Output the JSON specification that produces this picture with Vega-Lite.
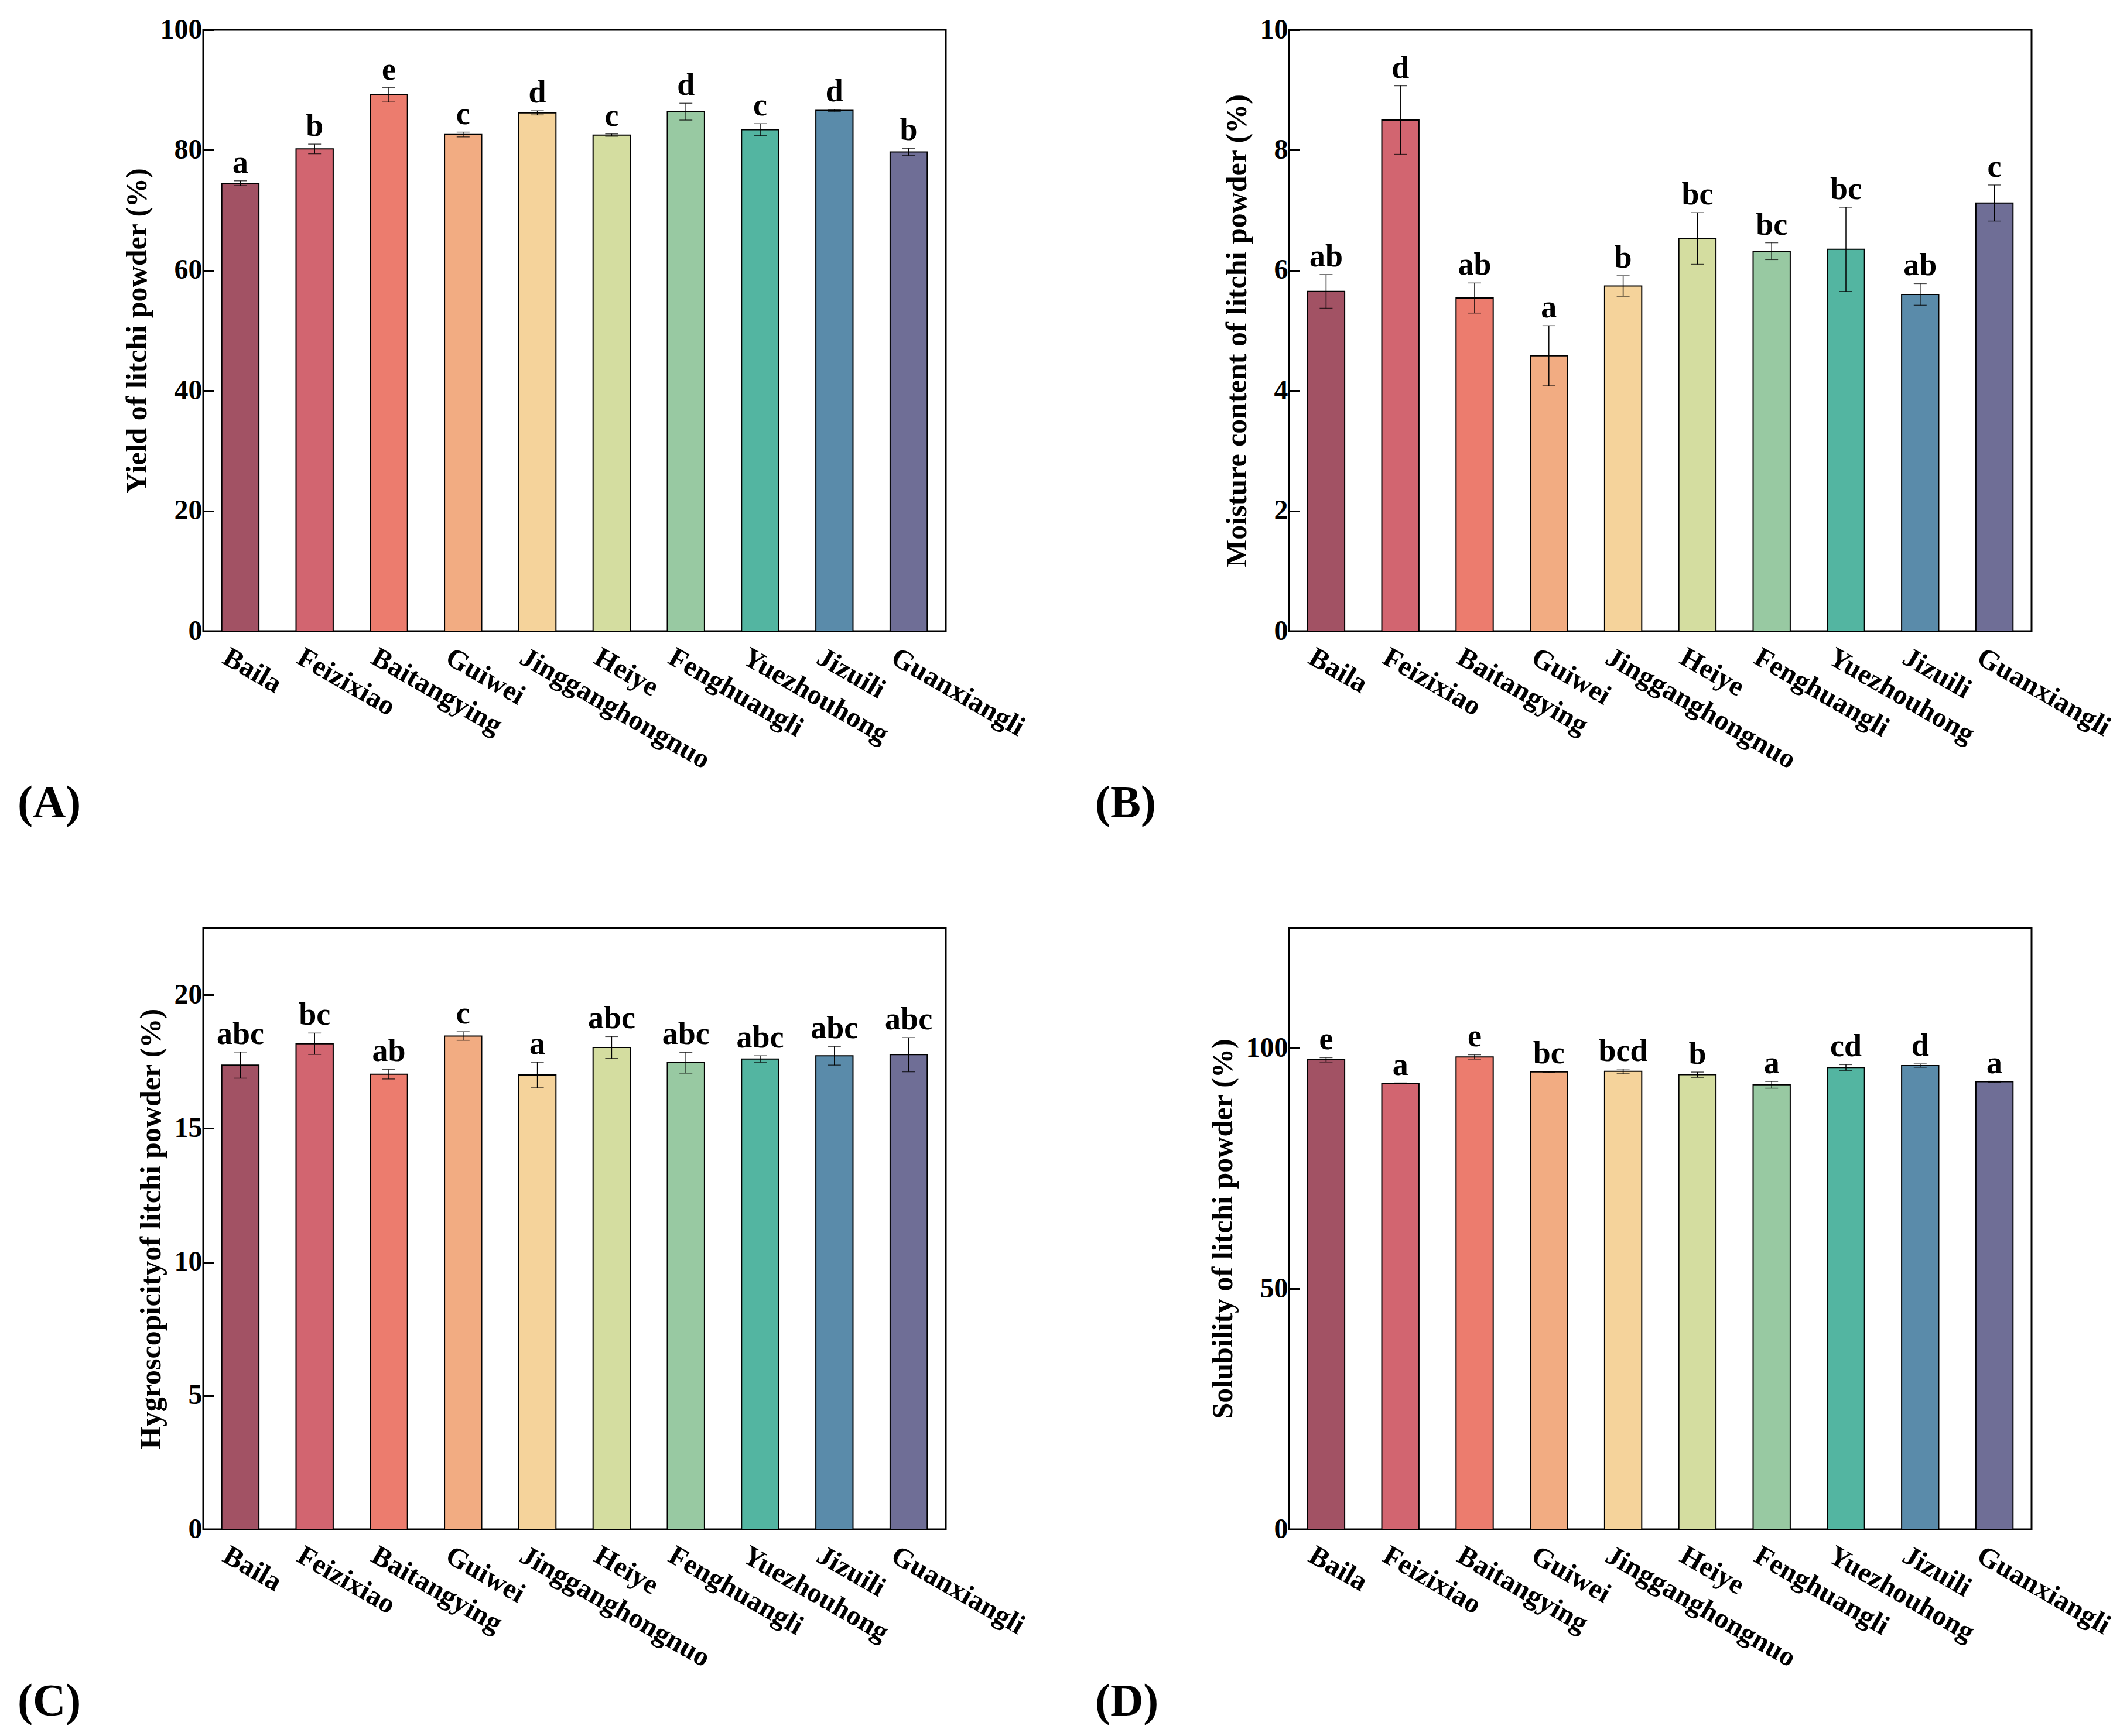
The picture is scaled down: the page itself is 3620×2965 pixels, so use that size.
{
  "$schema": "https://vega.github.io/schema/vega-lite/v6.json",
  "background": "white",
  "padding": {"left": 28, "top": 25, "right": 10, "bottom": 10},
  "config": {
    "view": {"stroke": "black", "strokeWidth": 3},
    "font": "Liberation Serif",
    "title": {"font": "Liberation Serif", "fontSize": 78, "fontWeight": "bold", "color": "black"},
    "axis": {
      "labelFont": "Liberation Serif", "labelFontWeight": "bold", "labelColor": "black",
      "titleFont": "Liberation Serif", "titleFontWeight": "bold", "titleColor": "black",
      "grid": false, "domain": false, "labelLimit": 0
    },
    "axisX": {"title": null, "labelAngle": 30, "labelAlign": "left", "labelBaseline": "top", "labelPadding": 20, "labelOffset": -14, "ticks": false, "labelFontSize": 48},
    "axisY": {"tickSize": -18, "tickWidth": 3, "tickColor": "black", "labelFontSize": 48, "labelPadding": 20, "titleFontSize": 50, "titlePadding": 14, "format": "d"}
  },
  "datasets": {
    "A": [
      {"cultivar": "Baila", "mean": 74.5, "lo": 74.1, "hi": 74.9, "letter": "a"},
      {"cultivar": "Feizixiao", "mean": 80.2, "lo": 79.4, "hi": 81.0, "letter": "b"},
      {"cultivar": "Baitangying", "mean": 89.2, "lo": 88.0, "hi": 90.4, "letter": "e"},
      {"cultivar": "Guiwei", "mean": 82.6, "lo": 82.2, "hi": 83.0, "letter": "c"},
      {"cultivar": "Jingganghongnuo", "mean": 86.2, "lo": 85.85, "hi": 86.55, "letter": "d"},
      {"cultivar": "Heiye", "mean": 82.5, "lo": 82.3, "hi": 82.7, "letter": "c"},
      {"cultivar": "Fenghuangli", "mean": 86.4, "lo": 85.0, "hi": 87.8, "letter": "d"},
      {"cultivar": "Yuezhouhong", "mean": 83.4, "lo": 82.4, "hi": 84.4, "letter": "c"},
      {"cultivar": "Jizuili", "mean": 86.6, "lo": 86.45, "hi": 86.75, "letter": "d"},
      {"cultivar": "Guanxiangli", "mean": 79.7, "lo": 79.1, "hi": 80.3, "letter": "b"}
    ],
    "B": [
      {"cultivar": "Baila", "mean": 5.65, "lo": 5.37, "hi": 5.93, "letter": "ab"},
      {"cultivar": "Feizixiao", "mean": 8.5, "lo": 7.93, "hi": 9.07, "letter": "d"},
      {"cultivar": "Baitangying", "mean": 5.54, "lo": 5.29, "hi": 5.79, "letter": "ab"},
      {"cultivar": "Guiwei", "mean": 4.58, "lo": 4.08, "hi": 5.08, "letter": "a"},
      {"cultivar": "Jingganghongnuo", "mean": 5.74, "lo": 5.57, "hi": 5.91, "letter": "b"},
      {"cultivar": "Heiye", "mean": 6.53, "lo": 6.1, "hi": 6.96, "letter": "bc"},
      {"cultivar": "Fenghuangli", "mean": 6.32, "lo": 6.18, "hi": 6.46, "letter": "bc"},
      {"cultivar": "Yuezhouhong", "mean": 6.35, "lo": 5.65, "hi": 7.05, "letter": "bc"},
      {"cultivar": "Jizuili", "mean": 5.6, "lo": 5.42, "hi": 5.78, "letter": "ab"},
      {"cultivar": "Guanxiangli", "mean": 7.12, "lo": 6.82, "hi": 7.42, "letter": "c"}
    ],
    "C": [
      {"cultivar": "Baila", "mean": 17.37, "lo": 16.88, "hi": 17.86, "letter": "abc"},
      {"cultivar": "Feizixiao", "mean": 18.17, "lo": 17.77, "hi": 18.57, "letter": "bc"},
      {"cultivar": "Baitangying", "mean": 17.03, "lo": 16.85, "hi": 17.21, "letter": "ab"},
      {"cultivar": "Guiwei", "mean": 18.46, "lo": 18.3, "hi": 18.62, "letter": "c"},
      {"cultivar": "Jingganghongnuo", "mean": 17.0, "lo": 16.52, "hi": 17.48, "letter": "a"},
      {"cultivar": "Heiye", "mean": 18.03, "lo": 17.62, "hi": 18.44, "letter": "abc"},
      {"cultivar": "Fenghuangli", "mean": 17.46, "lo": 17.07, "hi": 17.85, "letter": "abc"},
      {"cultivar": "Yuezhouhong", "mean": 17.6, "lo": 17.48, "hi": 17.72, "letter": "abc"},
      {"cultivar": "Jizuili", "mean": 17.72, "lo": 17.37, "hi": 18.07, "letter": "abc"},
      {"cultivar": "Guanxiangli", "mean": 17.76, "lo": 17.12, "hi": 18.4, "letter": "abc"}
    ],
    "D": [
      {"cultivar": "Baila", "mean": 97.6, "lo": 97.15, "hi": 98.05, "letter": "e"},
      {"cultivar": "Feizixiao", "mean": 92.7, "lo": 92.6, "hi": 92.8, "letter": "a"},
      {"cultivar": "Baitangying", "mean": 98.2, "lo": 97.75, "hi": 98.65, "letter": "e"},
      {"cultivar": "Guiwei", "mean": 95.1, "lo": 95.0, "hi": 95.2, "letter": "bc"},
      {"cultivar": "Jingganghongnuo", "mean": 95.2, "lo": 94.7, "hi": 95.7, "letter": "bcd"},
      {"cultivar": "Heiye", "mean": 94.5, "lo": 93.95, "hi": 95.05, "letter": "b"},
      {"cultivar": "Fenghuangli", "mean": 92.4, "lo": 91.7, "hi": 93.1, "letter": "a"},
      {"cultivar": "Yuezhouhong", "mean": 96.0, "lo": 95.4, "hi": 96.6, "letter": "cd"},
      {"cultivar": "Jizuili", "mean": 96.4, "lo": 96.05, "hi": 96.75, "letter": "d"},
      {"cultivar": "Guanxiangli", "mean": 93.05, "lo": 92.95, "hi": 93.15, "letter": "a"}
    ]
  },
  "columns": 2,
  "spacing": {"row": 507, "column": 586},
  "bounds": "flush",
  "concat": [
    {
      "width": 1268, "height": 1027,
      "data": {"name": "A"},
      "title": {"text": "(A)", "orient": "bottom", "anchor": "start", "frame": "group", "dx": -317, "offset": 12},
      "encoding": {"x": {"field": "cultivar", "type": "nominal", "sort": null, "scale": {"paddingInner": 0.5, "paddingOuter": 0.25}}},
      "layer": [
        {"mark": {"type": "bar", "stroke": "black", "strokeWidth": 2},
         "encoding": {
           "y": {"field": "mean", "type": "quantitative", "scale": {"domain": [0, 100], "nice": false}, "axis": {"title": "Yield of litchi powder (%)", "values": [0, 20, 40, 60, 80, 100]}},
           "color": {"field": "cultivar", "type": "nominal", "legend": null, "scale": {"domain": ["Baila", "Feizixiao", "Baitangying", "Guiwei", "Jingganghongnuo", "Heiye", "Fenghuangli", "Yuezhouhong", "Jizuili", "Guanxiangli"], "range": ["#A25264", "#D26570", "#EC7C6E", "#F2AC82", "#F5D39B", "#D4DDA0", "#98C9A2", "#53B5A1", "#5A8BAA", "#6F6E96"]}}}},
        {"mark": {"type": "rule", "color": "black", "strokeWidth": 1.5}, "encoding": {"y": {"field": "lo", "type": "quantitative"}, "y2": {"field": "hi"}}},
        {"mark": {"type": "tick", "color": "black", "thickness": 1.5, "size": 22, "orient": "horizontal"}, "encoding": {"y": {"field": "lo", "type": "quantitative"}}},
        {"mark": {"type": "tick", "color": "black", "thickness": 1.5, "size": 22, "orient": "horizontal"}, "encoding": {"y": {"field": "hi", "type": "quantitative"}}},
        {"mark": {"type": "text", "baseline": "alphabetic", "dy": -14, "font": "Liberation Serif", "fontSize": 54, "fontWeight": "bold", "color": "black"}, "encoding": {"y": {"field": "hi", "type": "quantitative"}, "text": {"field": "letter"}}}
      ]
    },
    {
      "width": 1268, "height": 1027,
      "data": {"name": "B"},
      "title": {"text": "(B)", "orient": "bottom", "anchor": "start", "frame": "group", "dx": -331, "offset": 12},
      "encoding": {"x": {"field": "cultivar", "type": "nominal", "sort": null, "scale": {"paddingInner": 0.5, "paddingOuter": 0.25}}},
      "layer": [
        {"mark": {"type": "bar", "stroke": "black", "strokeWidth": 2},
         "encoding": {
           "y": {"field": "mean", "type": "quantitative", "scale": {"domain": [0, 10], "nice": false}, "axis": {"title": "Moisture content of litchi powder (%)", "values": [0, 2, 4, 6, 8, 10]}},
           "color": {"field": "cultivar", "type": "nominal", "legend": null, "scale": {"domain": ["Baila", "Feizixiao", "Baitangying", "Guiwei", "Jingganghongnuo", "Heiye", "Fenghuangli", "Yuezhouhong", "Jizuili", "Guanxiangli"], "range": ["#A25264", "#D26570", "#EC7C6E", "#F2AC82", "#F5D39B", "#D4DDA0", "#98C9A2", "#53B5A1", "#5A8BAA", "#6F6E96"]}}}},
        {"mark": {"type": "rule", "color": "black", "strokeWidth": 1.5}, "encoding": {"y": {"field": "lo", "type": "quantitative"}, "y2": {"field": "hi"}}},
        {"mark": {"type": "tick", "color": "black", "thickness": 1.5, "size": 22, "orient": "horizontal"}, "encoding": {"y": {"field": "lo", "type": "quantitative"}}},
        {"mark": {"type": "tick", "color": "black", "thickness": 1.5, "size": 22, "orient": "horizontal"}, "encoding": {"y": {"field": "hi", "type": "quantitative"}}},
        {"mark": {"type": "text", "baseline": "alphabetic", "dy": -14, "font": "Liberation Serif", "fontSize": 54, "fontWeight": "bold", "color": "black"}, "encoding": {"y": {"field": "hi", "type": "quantitative"}, "text": {"field": "letter"}}}
      ]
    },
    {
      "width": 1268, "height": 1027,
      "data": {"name": "C"},
      "title": {"text": "(C)", "orient": "bottom", "anchor": "start", "frame": "group", "dx": -317, "offset": 12},
      "encoding": {"x": {"field": "cultivar", "type": "nominal", "sort": null, "scale": {"paddingInner": 0.5, "paddingOuter": 0.25}}},
      "layer": [
        {"mark": {"type": "bar", "stroke": "black", "strokeWidth": 2},
         "encoding": {
           "y": {"field": "mean", "type": "quantitative", "scale": {"domain": [0, 22.5], "nice": false}, "axis": {"title": "Hygroscopicityof litchi powder (%)", "values": [0, 5, 10, 15, 20]}},
           "color": {"field": "cultivar", "type": "nominal", "legend": null, "scale": {"domain": ["Baila", "Feizixiao", "Baitangying", "Guiwei", "Jingganghongnuo", "Heiye", "Fenghuangli", "Yuezhouhong", "Jizuili", "Guanxiangli"], "range": ["#A25264", "#D26570", "#EC7C6E", "#F2AC82", "#F5D39B", "#D4DDA0", "#98C9A2", "#53B5A1", "#5A8BAA", "#6F6E96"]}}}},
        {"mark": {"type": "rule", "color": "black", "strokeWidth": 1.5}, "encoding": {"y": {"field": "lo", "type": "quantitative"}, "y2": {"field": "hi"}}},
        {"mark": {"type": "tick", "color": "black", "thickness": 1.5, "size": 22, "orient": "horizontal"}, "encoding": {"y": {"field": "lo", "type": "quantitative"}}},
        {"mark": {"type": "tick", "color": "black", "thickness": 1.5, "size": 22, "orient": "horizontal"}, "encoding": {"y": {"field": "hi", "type": "quantitative"}}},
        {"mark": {"type": "text", "baseline": "alphabetic", "dy": -14, "font": "Liberation Serif", "fontSize": 54, "fontWeight": "bold", "color": "black"}, "encoding": {"y": {"field": "hi", "type": "quantitative"}, "text": {"field": "letter"}}}
      ]
    },
    {
      "width": 1268, "height": 1027,
      "data": {"name": "D"},
      "title": {"text": "(D)", "orient": "bottom", "anchor": "start", "frame": "group", "dx": -331, "offset": 12},
      "encoding": {"x": {"field": "cultivar", "type": "nominal", "sort": null, "scale": {"paddingInner": 0.5, "paddingOuter": 0.25}}},
      "layer": [
        {"mark": {"type": "bar", "stroke": "black", "strokeWidth": 2},
         "encoding": {
           "y": {"field": "mean", "type": "quantitative", "scale": {"domain": [0, 125], "nice": false}, "axis": {"title": "Solubility of litchi powder (%)", "values": [0, 50, 100]}},
           "color": {"field": "cultivar", "type": "nominal", "legend": null, "scale": {"domain": ["Baila", "Feizixiao", "Baitangying", "Guiwei", "Jingganghongnuo", "Heiye", "Fenghuangli", "Yuezhouhong", "Jizuili", "Guanxiangli"], "range": ["#A25264", "#D26570", "#EC7C6E", "#F2AC82", "#F5D39B", "#D4DDA0", "#98C9A2", "#53B5A1", "#5A8BAA", "#6F6E96"]}}}},
        {"mark": {"type": "rule", "color": "black", "strokeWidth": 1.5}, "encoding": {"y": {"field": "lo", "type": "quantitative"}, "y2": {"field": "hi"}}},
        {"mark": {"type": "tick", "color": "black", "thickness": 1.5, "size": 22, "orient": "horizontal"}, "encoding": {"y": {"field": "lo", "type": "quantitative"}}},
        {"mark": {"type": "tick", "color": "black", "thickness": 1.5, "size": 22, "orient": "horizontal"}, "encoding": {"y": {"field": "hi", "type": "quantitative"}}},
        {"mark": {"type": "text", "baseline": "alphabetic", "dy": -14, "font": "Liberation Serif", "fontSize": 54, "fontWeight": "bold", "color": "black"}, "encoding": {"y": {"field": "hi", "type": "quantitative"}, "text": {"field": "letter"}}}
      ]
    }
  ]
}
